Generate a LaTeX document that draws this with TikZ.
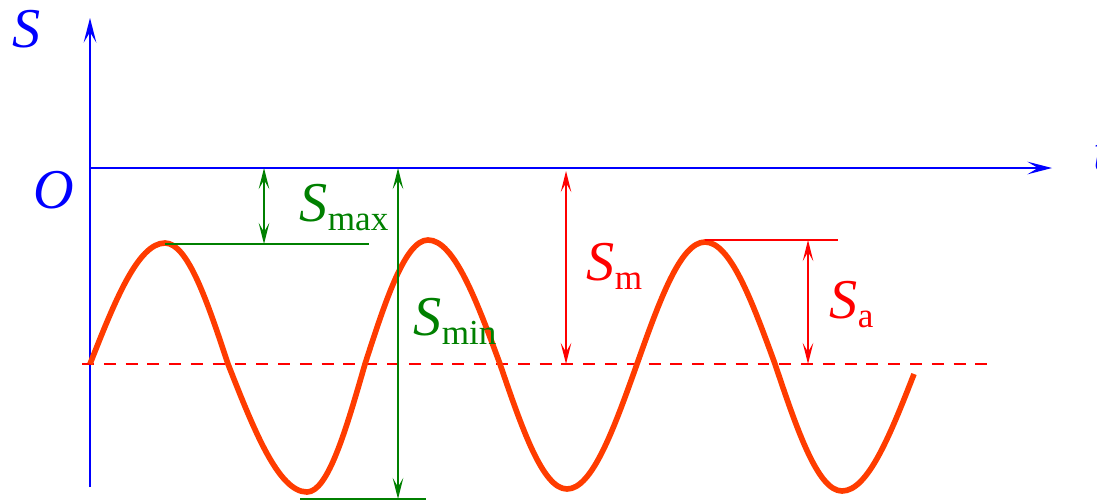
\documentclass[tikz,border=0pt]{standalone}
\usepackage{fontspec}
\setmainfont{Liberation Serif}
\usepackage{tikz}
\usetikzlibrary{arrows.meta}
\definecolor{ejeAzul}{RGB}{0,0,255}
\definecolor{verdeCota}{RGB}{0,128,0}
\definecolor{rojoCota}{RGB}{255,0,0}
\definecolor{curvaNaranja}{RGB}{255,60,0}
\newcommand{\bigS}{\fontsize{16}{18}\selectfont\itshape S}
\newcommand{\subtxt}[1]{\raisebox{-2.6pt}{\fontsize{10}{12}\selectfont\upshape #1}}
\tikzset{
  eje/.style={draw=ejeAzul, line width=0.6pt,
    >={Stealth[length=7pt, width=3.6pt, inset=3pt]}, ->},
  cotaV/.style={draw=verdeCota, line width=0.45pt,
    >={Stealth[length=6pt, width=3pt, inset=2.6pt]}, <->},
  cotaR/.style={draw=rojoCota, line width=0.45pt,
    >={Stealth[length=6pt, width=3pt, inset=2.6pt]}, <->},
  etiqueta/.style={anchor=base west, inner sep=0pt}
}

\begin{document}
\begin{tikzpicture}
  \useasboundingbox (0,0) rectangle (10.97,5.01);
  % Axes
  \coordinate (O) at (0.90,3.33);
  \coordinate (ejeAbajo) at (0.90,0.14);
  \coordinate (ejeArriba) at (0.90,4.83);
  \coordinate (ejeDerecha) at (10.52,3.33);
  \draw[eje] (ejeAbajo) -- (ejeArriba);
  \draw[eje] (O) -- (ejeDerecha);
  \node[etiqueta, ejeAzul] (labS) at (0.12,4.54) {\bigS};
  \node[etiqueta, ejeAzul] (labO) at (0.33,2.93)
    {\fontsize{16}{18}\selectfont\itshape O};
  \node[etiqueta, ejeAzul] (labT) at (10.93,3.31)
    {\fontsize{16}{18}\selectfont\itshape t};
  % Mean line (dashed)
  \coordinate (medIzq) at (0.82,1.37);
  \coordinate (medDer) at (9.90,1.37);
  \draw[rojoCota, line width=0.6pt, dash pattern=on 3.4pt off 2.8pt]
    (medIzq) -- (medDer);
  % Stress curve
  \draw[curvaNaranja, line width=1.6pt, line join=round]
    (0.90,1.37) sin (1.65,2.58) cos (2.28,1.37) sin (3.07,0.09)
    cos (3.65,1.37) sin (4.28,2.61) cos (5.00,1.37) sin (5.67,0.12)
    cos (6.37,1.37) sin (7.05,2.59) cos (7.75,1.37) sin (8.42,0.10)
    cos (9.14,1.27);
  % S_max
  \coordinate (maxIzq) at (1.65,2.57);
  \coordinate (maxDer) at (3.69,2.57);
  \coordinate (maxArr) at (2.64,3.33);
  \coordinate (maxAba) at (2.64,2.57);
  \draw[verdeCota, line width=0.6pt] (maxIzq) -- (maxDer);
  \draw[cotaV] (maxArr) -- (maxAba);
  \node[etiqueta, verdeCota] (labMax) at (2.99,2.80) {\bigS\subtxt{max}};
  % S_min
  \coordinate (minIzq) at (3.00,0.02);
  \coordinate (minDer) at (4.26,0.02);
  \coordinate (minArr) at (3.98,3.33);
  \coordinate (minAba) at (3.98,0.02);
  \draw[verdeCota, line width=0.6pt] (minIzq) -- (minDer);
  \draw[cotaV] (minArr) -- (minAba);
  \node[etiqueta, verdeCota] (labMin) at (4.13,1.66) {\bigS\subtxt{min}};
  % S_m
  \coordinate (mArr) at (5.66,3.30);
  \coordinate (mAba) at (5.66,1.37);
  \draw[cotaR] (mArr) -- (mAba);
  \node[etiqueta, rojoCota] (labM) at (5.86,2.21) {\bigS\subtxt{m}};
  % S_a
  \coordinate (aIzq) at (7.05,2.61);
  \coordinate (aDer) at (8.38,2.61);
  \coordinate (aArr) at (8.08,2.61);
  \coordinate (aAba) at (8.08,1.37);
  \draw[rojoCota, line width=0.6pt] (aIzq) -- (aDer);
  \draw[cotaR] (aArr) -- (aAba);
  \node[etiqueta, rojoCota] (labA) at (8.29,1.83) {\bigS\subtxt{a}};
\end{tikzpicture}
\end{document}
